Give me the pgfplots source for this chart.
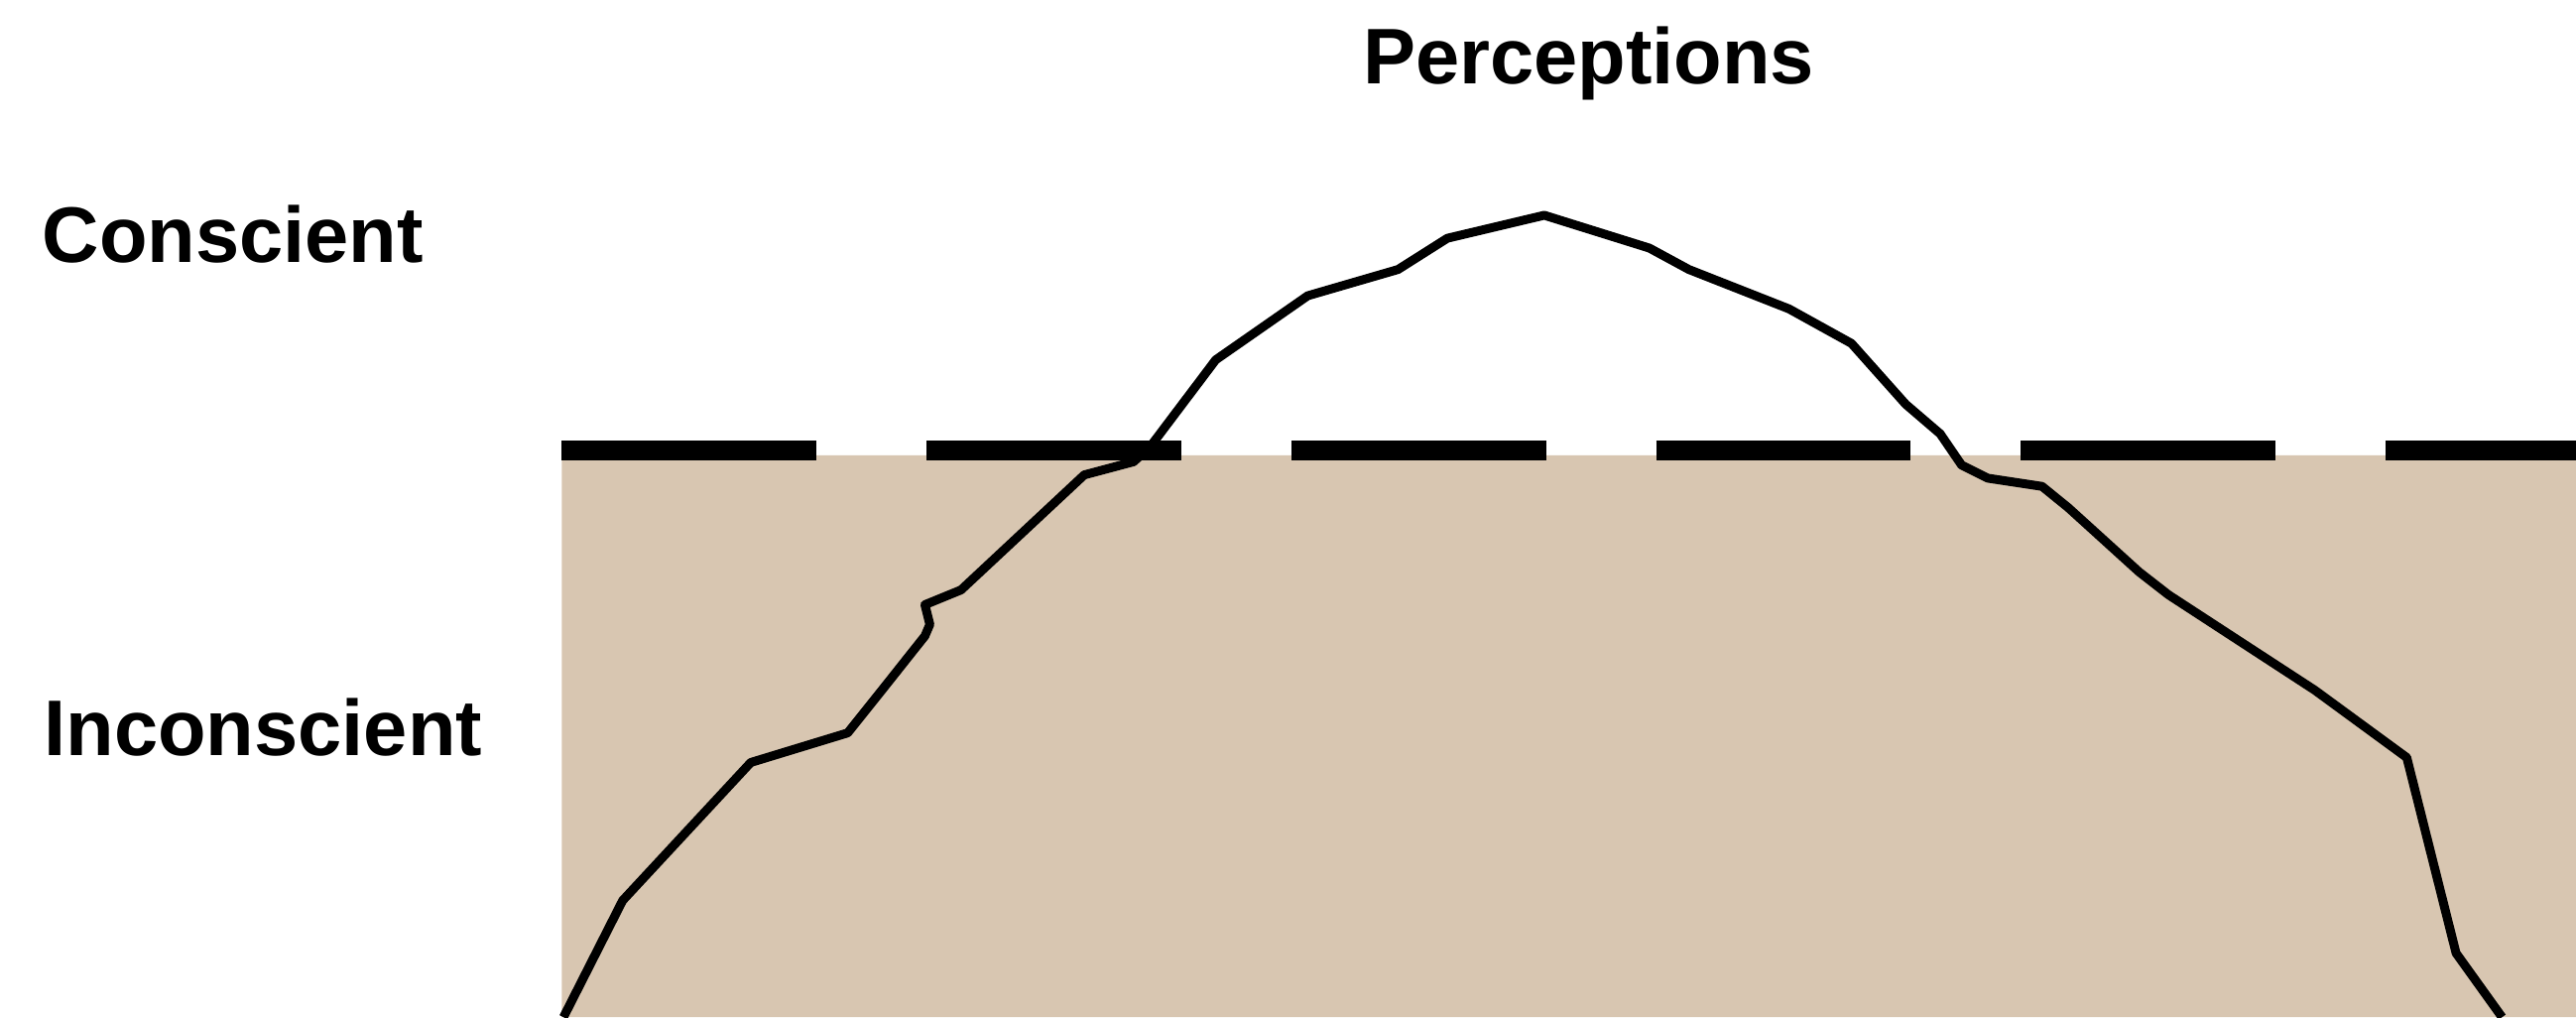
\documentclass[border=0pt]{standalone}
\usepackage{fontspec}
\setmainfont{Liberation Sans}
\usepackage{pgfplots}
\pgfplotsset{compat=1.18}
\definecolor{water}{RGB}{216,198,177}

\begin{document}
\begin{tikzpicture}
  \begin{axis}[name=ax,
      width=392pt, height=154.75pt, scale only axis,
      xmin=0, xmax=1568, ymin=0, ymax=619,
      hide axis]
    % water below the surface
    \addplot[draw=none, fill=water] coordinates
      {(342,0) (342,342) (1568,342) (1568,0)} \closedcycle;
    % outline of the iceberg
    \addplot[black, line width=1.35pt, line join=round] coordinates {
      (343,0) (379,71) (457,155) (516,173) (536,198) (563,232)
      (566,239) (563,251) (585,260) (660,330) (690,338) (700,347)
      (740,400) (796,439) (851,455) (881,474) (940,488) (1004,468)
      (1028,455) (1089,431) (1127,410) (1160,373) (1181,355)
      (1194,336) (1210,328) (1243,323) (1259,310) (1302,271)
      (1320,257) (1409,199) (1465,158) (1495,39) (1523,0)};
    % surface of the water
    \addplot[black, line width=3.1pt, dash pattern=on 38.75pt off 16.75pt]
      coordinates {(342,345) (1568,345)};
    \node[anchor=base, font=\bfseries\fontsize{12}{14}\selectfont]
      at (axis cs:967,568) {Perceptions};
    \node[anchor=base west, inner sep=0pt, font=\bfseries\fontsize{12}{14}\selectfont]
      at (axis cs:25,459) {Conscient};
    \node[anchor=base west, inner sep=0pt, font=\bfseries\fontsize{12}{14}\selectfont]
      at (axis cs:26,159) {Inconscient};
  \end{axis}
  \pgfresetboundingbox
  \path (ax.south west) rectangle (ax.north east);
\end{tikzpicture}
\end{document}
